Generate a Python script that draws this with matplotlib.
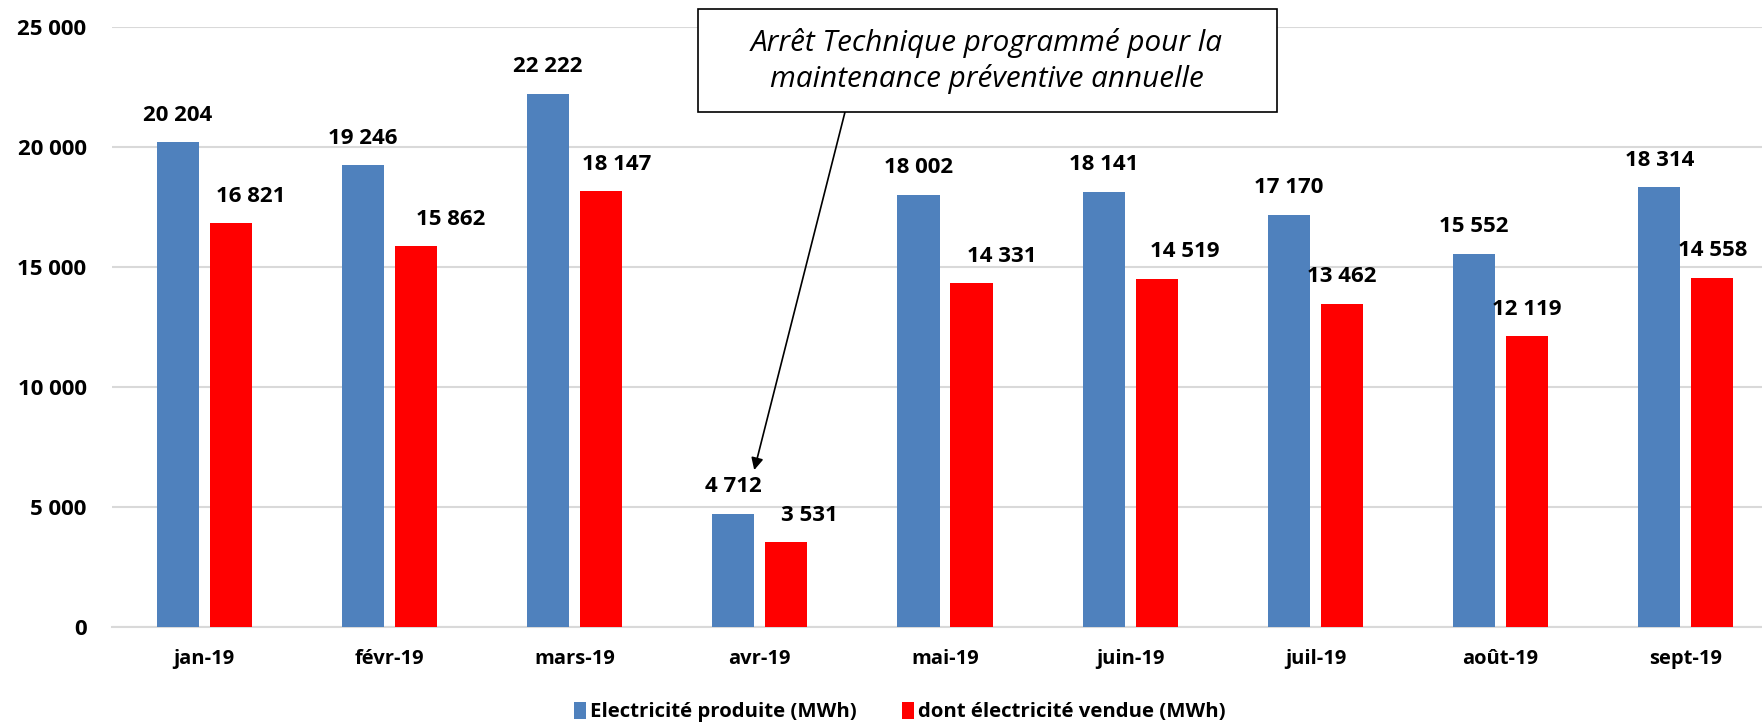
import numpy as np
import matplotlib
matplotlib.use("Agg")
import matplotlib.pyplot as plt
from matplotlib.patches import Rectangle
from matplotlib.ticker import FuncFormatter

plt.rcParams["font.family"] = ["Open Sans", "DejaVu Sans"]

months = ["jan-19", "févr-19", "mars-19", "avr-19", "mai-19",
          "juin-19", "juil-19", "août-19", "sept-19"]
produced = [20204, 19246, 22222, 4712, 18002, 18141, 17170, 15552, 18314]
sold = [16821, 15862, 18147, 3531, 14331, 14519, 13462, 12119, 14558]

# horizontal nudge (pixels) of the red value labels, as placed in the original
SOLD_LABEL_DX = [20, 35, 16, 23, 30, 28, 0, 0, 0]

BLUE = "#4F81BD"
RED = "#FF0000"
GRID = "#D9D9D9"
W, H = 1762, 722

def fmt(v):
	# thousands separated by a space, French style
	return "{:,}".format(int(v)).replace(",", " ")

fig = plt.figure(figsize=(W/100, H/100), dpi=100)
ax = fig.add_axes([111.5/W, 1-627/H, 1667/W, 600/H])

x = np.arange(len(months))
w = 0.227
off = 0.143
b1 = ax.bar(x - off, produced, w, color=BLUE, label="Electricité produite (MWh)", zorder=3)
b2 = ax.bar(x + off, sold, w, color=RED, label="dont électricité vendue (MWh)", zorder=3)

for bars, dxs in ((b1, [0]*len(months)), (b2, SOLD_LABEL_DX)):
	for b, dx in zip(bars, dxs):
		ax.annotate(fmt(b.get_height()), (b.get_x() + b.get_width()/2, b.get_height()),
			xytext=(dx, 27), textcoords="offset pixels", ha="center", va="center",
			fontsize=16, fontweight="bold", color="black")

ax.set_xlim(-0.5, len(months) - 0.5)
ax.set_ylim(0, 25000)
ax.set_yticks(np.arange(0, 25001, 5000))
ax.yaxis.set_major_formatter(FuncFormatter(lambda v, p: fmt(v)))
ax.set_xticks(x)
ax.set_xticklabels(months)
ax.tick_params(axis="y", length=0, pad=18, labelsize=16)
ax.tick_params(axis="x", length=0, pad=16, labelsize=14.5)
for lab in ax.get_xticklabels() + ax.get_yticklabels():
	lab.set_fontweight("bold")

ax.grid(axis="y", color=GRID, linewidth=1.5, zorder=0)
for s in ["top", "right", "left"]:
	ax.spines[s].set_visible(False)
ax.spines["bottom"].set_color(GRID)
ax.spines["bottom"].set_linewidth(1.5)

# callout box for the April shutdown
box = Rectangle((698/W, 1-112/H), (1277-698)/W, (112-9)/H, transform=fig.transFigure,
	fc="white", ec="black", lw=1.2, zorder=5)
fig.patches.append(box)
fig.text(987/W, 1-61/H, "Arrêt Technique programmé pour la\nmaintenance préventive annuelle",
	ha="center", va="center", fontsize=21.3, fontstyle="italic", linespacing=1.25, zorder=6)
ax.annotate("", xy=(2.97, 6540), xycoords="data",
	xytext=(845/W, 1-112/H), textcoords="figure fraction",
	arrowprops=dict(arrowstyle="-|>", color="black", lw=1.2, mutation_scale=18,
		shrinkA=0, shrinkB=0))

leg = fig.legend(loc="center", bbox_to_anchor=(900/W, 1-712/H), ncol=2,
	frameon=False, handlelength=0.6, handleheight=0.9, handletextpad=0.2,
	columnspacing=2.2, prop={"size": 14.7, "weight": "bold"})

fig.savefig("out.png", dpi=100)
